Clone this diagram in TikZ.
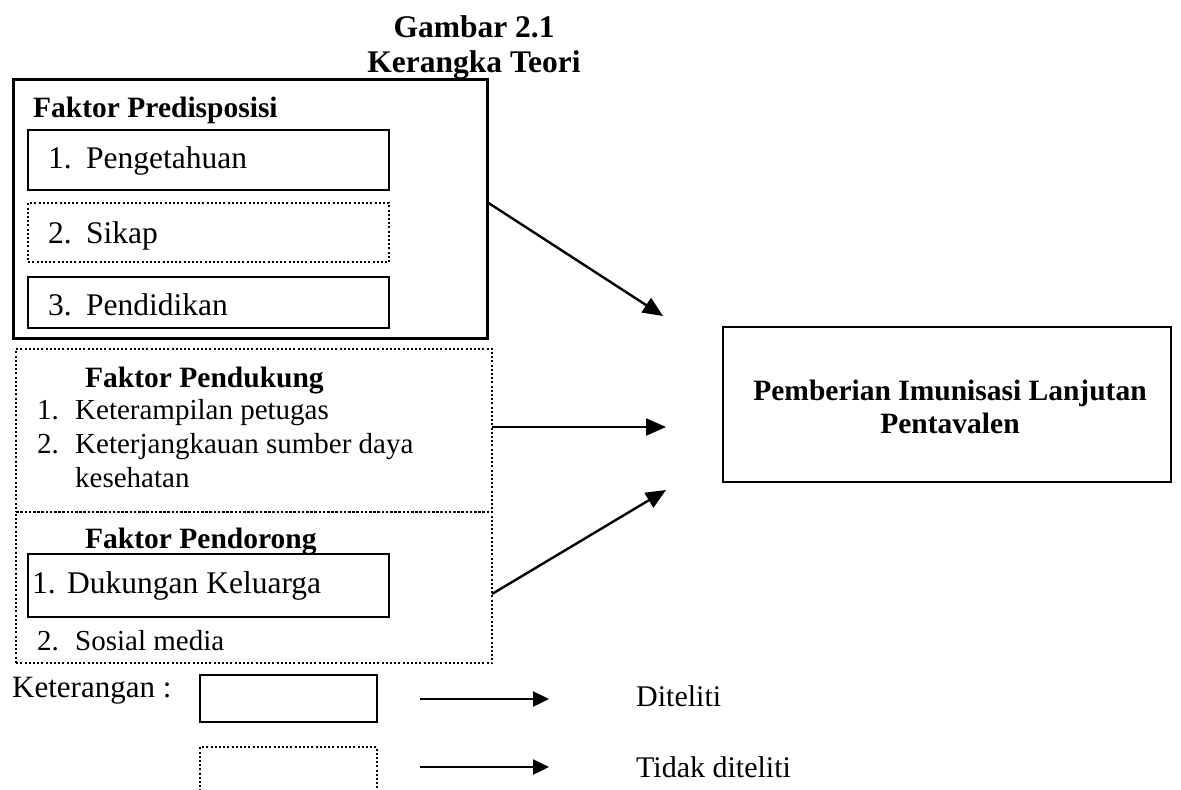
\documentclass[tikz,border=0pt]{standalone}
\usepackage{fontspec}
\setmainfont{Liberation Serif}
\usetikzlibrary{arrows.meta}
\begin{document}
\begin{tikzpicture}[x=1pt,y=-1pt,
  solidbox/.style={draw,line width=2pt,inner sep=0pt,anchor=north west},
  dotbox/.style={draw,line width=2.2pt,dash pattern=on 2pt off 2.2pt,inner sep=0pt,anchor=north west},
  txt/.style={inner sep=0pt,anchor=base west},
  arr/.style={line width=2.4pt,-{Triangle[length=20pt,width=17pt]}},
  big/.style={font=\fontsize{31.5}{36}\selectfont},
  mid/.style={font=\fontsize{29}{33}\selectfont},
  hd/.style={font=\fontsize{29.5}{34}\selectfont\bfseries}]
\useasboundingbox (0,0) rectangle (1181,790);
% title
\node[inner sep=0pt,anchor=base,font=\fontsize{31.5}{36}\selectfont\bfseries] (t1) at (474,37) {Gambar 2.1};
\node[inner sep=0pt,anchor=base,font=\fontsize{31.5}{36}\selectfont\bfseries] (t2) at (474,72) {Kerangka Teori};
% predisposisi
\node[solidbox,line width=2.5pt,minimum width=474pt,minimum height=259pt] (pred) at (12,78) {};
\node[txt,hd] (predh) at (33,117) {Faktor Predisposisi};
\node[solidbox,minimum width=361pt,minimum height=60pt] (p1) at (27,129) {};
\node[txt,big] (p1t) at (48,168) {\makebox[38pt][l]{1.}Pengetahuan};
\node[dotbox,minimum width=361pt,minimum height=59pt] (p2) at (27,202) {};
\node[txt,big] (p2t) at (48,243) {\makebox[38pt][l]{2.}Sikap};
\node[solidbox,minimum width=361pt,minimum height=51pt] (p3) at (27,276) {};
\node[txt,big] (p3t) at (48,315) {\makebox[38pt][l]{3.}Pendidikan};
% pendukung
\node[dotbox,minimum width=476pt,minimum height=163pt] (pdk) at (15,348) {};
\node[txt,hd] (pdkh) at (85,387) {Faktor Pendukung};
\node[txt,mid] (pdk1) at (37,419) {\makebox[38pt][l]{1.}Keterampilan petugas};
\node[txt,mid] (pdk2) at (37,453) {\makebox[38pt][l]{2.}Keterjangkauan sumber daya};
\node[txt,mid] (pdk3) at (75,487) {kesehatan};
% pendorong
\node[dotbox,minimum width=476pt,minimum height=151pt] (pdr) at (15,511) {};
\node[txt,hd] (pdrh) at (85,548) {Faktor Pendorong};
\node[solidbox,fill=white,minimum width=361pt,minimum height=63pt] (d1) at (27,553) {};
\node[txt,big] (d1t) at (32,593) {\makebox[35pt][l]{1.}Dukungan Keluarga};
\node[txt,mid] (d2t) at (37,650) {\makebox[38pt][l]{2.}Sosial media};
% target
\node[solidbox,minimum width=448pt,minimum height=155pt] (tgt) at (722,326) {};
\node[inner sep=0pt,anchor=base,hd] (tgt1) at (950,400) {Pemberian Imunisasi Lanjutan};
\node[inner sep=0pt,anchor=base,hd] (tgt2) at (950,433) {Pentavalen};
% arrows
\coordinate (a1s) at (487,202);
\coordinate (a1e) at (663,316);
\coordinate (a2s) at (492,427);
\coordinate (a2e) at (666,427);
\coordinate (a3s) at (492,594);
\coordinate (a3e) at (666,490);
\draw[arr] (a1s) -- (a1e);
\draw[arr] (a2s) -- (a2e);
\draw[arr] (a3s) -- (a3e);
% legend
\node[txt,font=\fontsize{31}{36}\selectfont] (ket) at (12,697) {Keterangan :};
\node[solidbox,minimum width=177pt,minimum height=47pt] (l1) at (199,674) {};
\node[dotbox,minimum width=177pt,minimum height=70pt] (l2) at (199,746) {};
\coordinate (la1s) at (420,699);
\coordinate (la1e) at (549,699);
\coordinate (la2s) at (420,767);
\coordinate (la2e) at (549,767);
\draw[arr,-{Triangle[length=16pt,width=15pt]}] (la1s) -- (la1e);
\draw[arr,-{Triangle[length=16pt,width=15pt]}] (la2s) -- (la2e);
\node[txt,font=\fontsize{30}{35}\selectfont] (dit) at (636,706) {Diteliti};
\node[txt,font=\fontsize{30}{35}\selectfont] (tdit) at (636,777) {Tidak diteliti};
\end{tikzpicture}
\end{document}
